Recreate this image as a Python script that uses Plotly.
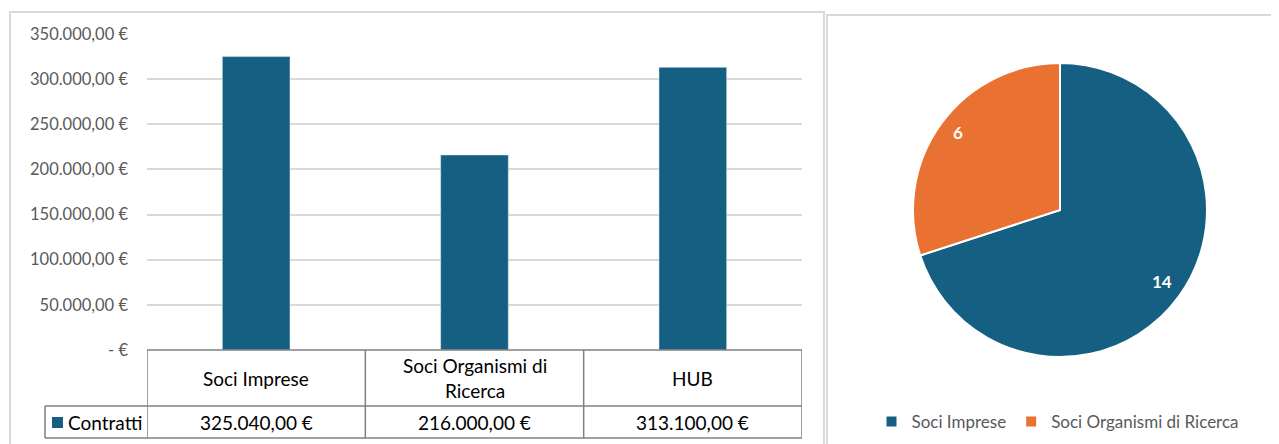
import math
import textwrap
import plotly.graph_objects as go

# ---------------- data ----------------
categories = ["Soci Imprese", "Soci Organismi di Ricerca", "HUB"]
contratti = [325040.00, 216000.00, 313100.00]
series_name = "Contratti"

y_tickvals = [0, 50000, 100000, 150000, 200000, 250000, 300000, 350000]
y_ticktext = ["- €", "50.000,00 €", "100.000,00 €", "150.000,00 €",
              "200.000,00 €", "250.000,00 €", "300.000,00 €", "350.000,00 €"]

pie_labels = ["Soci Imprese", "Soci Organismi di Ricerca"]
pie_values = [14, 6]

# ---------------- style ----------------
W, H = 1279, 444
OX, OY = 8, 8  # page body margin compensation
BLUE = "#156082"
ORANGE = "#E97132"
GRID = "#d9d9d9"
TICK = "#595959"
TABLE_LINE = "#808080"
FONT = "Lato, 'Noto Sans', sans-serif"


def px(x):
    return (x - OX) / W


def py(y):
    return 1 - (y - OY) / H


def fmt_eur(v):
    s = f"{v:,.2f}"
    s = s.replace(",", "X").replace(".", ",").replace("X", ".")
    return s + " €"


fig = go.Figure()

fig.add_trace(go.Bar(
    x=list(range(len(categories))), y=contratti, name=series_name,
    marker=dict(color=BLUE), width=0.31, showlegend=False,
    hoverinfo="y",
))

# pie geometry (pixels)
PIE_L, PIE_R, PIE_T, PIE_B = 913, 1207, 63, 357
fig.add_trace(go.Pie(
    labels=pie_labels, values=pie_values, sort=False, direction="clockwise",
    rotation=0,
    marker=dict(colors=[BLUE, ORANGE], line=dict(color="white", width=2)),
    textinfo="none",
    domain=dict(x=[px(PIE_L), px(PIE_R)], y=[py(PIE_B), py(PIE_T)]),
    showlegend=True,
))

# table geometry (pixels)
T_TOP, T_MID, T_BOT = 350, 406, 438
LEG_LEFT = 45

shapes = []
# panel borders
shapes.append(dict(type="rect", xref="paper", yref="paper",
                   x0=px(10), x1=px(824), y0=py(452), y1=py(12),
                   line=dict(color=GRID, width=2)))
shapes.append(dict(type="rect", xref="paper", yref="paper",
                   x0=px(827), x1=px(1290), y0=py(452), y1=py(15),
                   line=dict(color=GRID, width=2)))

n = len(categories)
for i in range(n + 1):
    shapes.append(dict(type="line", xref="x", yref="paper",
                       x0=i - 0.5, x1=i - 0.5, y0=py(T_TOP), y1=py(T_BOT),
                       line=dict(color=TABLE_LINE, width=1.5)))
shapes.append(dict(type="line", xref="x", yref="paper",
                   x0=-0.5, x1=n - 0.5, y0=py(T_TOP), y1=py(T_TOP),
                   line=dict(color=TABLE_LINE, width=1.5)))
for yy in (T_MID, T_BOT):
    shapes.append(dict(type="line", xref="paper", yref="paper",
                       x0=px(LEG_LEFT), x1=px(802), y0=py(yy), y1=py(yy),
                       line=dict(color=TABLE_LINE, width=1.5)))
shapes.append(dict(type="line", xref="paper", yref="paper",
                   x0=px(LEG_LEFT), x1=px(LEG_LEFT), y0=py(T_MID), y1=py(T_BOT),
                   line=dict(color=TABLE_LINE, width=1.5)))
shapes.append(dict(type="rect", xref="paper", yref="paper",
                   x0=px(52), x1=px(63), y0=py(428), y1=py(417),
                   fillcolor=BLUE, line=dict(width=0)))

TABLE_FONT = dict(size=19, color="black", family=FONT)
annotations = []
for i, (cat, val) in enumerate(zip(categories, contratti)):
    label = "<br>".join(textwrap.wrap(cat, width=18))
    annotations.append(dict(x=i, y=py((T_TOP + T_MID) / 2), xref="x", yref="paper",
                            text=label, showarrow=False, font=TABLE_FONT,
                            xanchor="center", yanchor="middle"))
    annotations.append(dict(x=i, y=py((T_MID + T_BOT) / 2), xref="x", yref="paper",
                            text=fmt_eur(val), showarrow=False, font=TABLE_FONT,
                            xanchor="center", yanchor="middle"))
annotations.append(dict(x=px(66), y=py((T_MID + T_BOT) / 2), xref="paper", yref="paper",
                        text=series_name, showarrow=False, font=TABLE_FONT,
                        xanchor="left", yanchor="middle"))

# pie value labels, placed along each slice's mid-angle
cx, cy = (PIE_L + PIE_R) / 2, (PIE_T + PIE_B) / 2
rad = (PIE_R - PIE_L) / 2
total = sum(pie_values)
cum = 0
for v in pie_values:
    mid = (cum + v / 2) / total * 2 * math.pi
    cum += v
    lx = cx + 0.86 * rad * math.sin(mid)
    ly = cy - 0.86 * rad * math.cos(mid) - 3
    annotations.append(dict(x=px(lx), y=py(ly), xref="paper", yref="paper",
                            text=f"<b>{v}</b>", showarrow=False,
                            font=dict(size=17, color="white", family=FONT),
                            xanchor="center", yanchor="middle"))

fig.update_layout(
    width=W, height=H,
    margin=dict(l=0, r=0, t=0, b=0, autoexpand=False),
    paper_bgcolor="white", plot_bgcolor="white",
    font=dict(family=FONT),
    xaxis=dict(domain=[px(147), px(802)], range=[-0.5, n - 0.5],
               showticklabels=False, showgrid=False, zeroline=False,
               showline=False, fixedrange=True),
    yaxis=dict(domain=[py(350), py(34)], range=[0, 350000],
               tickvals=y_tickvals, ticktext=y_ticktext,
               tickfont=dict(size=16.5, color=TICK, family=FONT),
               showgrid=True, gridcolor=GRID, gridwidth=1.5,
               zeroline=False, showline=False, ticklabelstandoff=18,
               automargin=False),
    legend=dict(orientation="h", x=px(1058), y=py(422), xanchor="center",
                yanchor="middle", font=dict(size=17, color=TICK, family=FONT),
                itemwidth=30, traceorder="normal"),
    shapes=shapes, annotations=annotations,
    bargap=0.69,
)

fig.write_html("out.html")
